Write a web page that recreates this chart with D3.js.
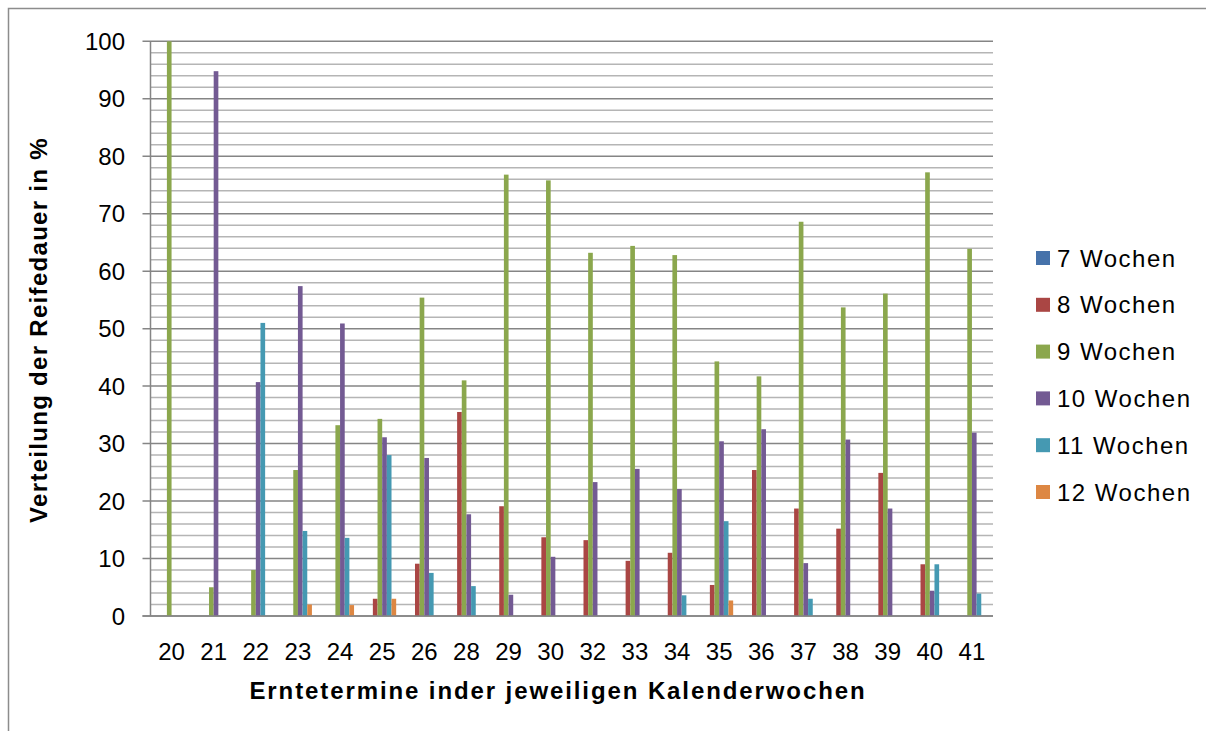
<!DOCTYPE html>
<html>
<head>
<meta charset="utf-8">
<script src="https://cdn.jsdelivr.net/npm/d3@7"></script>
<style>
  html, body { margin: 0; padding: 0; background: #fff; }
  svg { display: block; }
  text { font-family: "Liberation Sans", Arial, Helvetica, sans-serif; fill: #000; }
</style>
</head>
<body>
<svg id="chart" width="1206" height="731"></svg>
<script>
// Harvest weeks (calendar weeks)
const categories = ["20","21","22","23","24","25","26","28","29","30","32","33","34","35","36","37","38","39","40","41"];

// Share of ripening duration per harvest week, in %
const seriesNames = ["7 Wochen","8 Wochen","9 Wochen","10 Wochen","11 Wochen","12 Wochen"];
const wochen7  = [0,0,0,0,0,0,0,0,0,0,0,0,0,0,0,0,0,0,0,0];
const wochen8  = [0,0,0,0,0,3.0,9.1,35.5,19.1,13.7,13.2,9.6,11.0,5.4,25.4,18.7,15.2,24.9,9.0,0];
const wochen9  = [100,5.0,8.0,25.4,33.2,34.3,55.4,41.0,76.8,75.8,63.2,64.4,62.8,44.3,41.7,68.6,53.7,56.1,77.2,63.9];
const wochen10 = [0,94.8,40.7,57.4,50.9,31.1,27.5,17.7,3.7,10.3,23.3,25.6,22.1,30.4,32.5,9.2,30.7,18.7,4.4,31.9];
const wochen11 = [0,0,51.0,14.8,13.6,28.0,7.5,5.2,0,0,0,0,3.6,16.5,0,3.0,0,0,9.0,3.9];
const wochen12 = [0,0,0,2.0,1.9,3.0,0,0,0,0,0,0,0,2.7,0,0,0,0,0,0];

const yTicks = [0,10,20,30,40,50,60,70,80,90,100];
const colors = ["#4672aa","#aa4644","#8ba74d","#735a93","#4599b2","#dd8743"];

const seriesValues = [wochen7, wochen8, wochen9, wochen10, wochen11, wochen12];
const data = categories.map((c, i) => ({
  cat: c,
  values: seriesNames.map((s, k) => ({ series: s, value: seriesValues[k][i] }))
}));

const svg = d3.select("#chart");

// Outer chart frame
svg.append("rect")
  .attr("x", 8.5).attr("y", 8.5)
  .attr("width", 1210).attr("height", 740)
  .attr("fill", "none").attr("stroke", "#8c8c8c").attr("stroke-width", 1.5);

const plot = { left: 150.5, right: 993, top: 41.3, bottom: 616 };

const x0 = d3.scaleBand().domain(categories).range([plot.left, plot.right]).padding(0);
const bw = x0.bandwidth();
const x1 = d3.scaleBand().domain(seriesNames).range([bw * 0.168, bw * 0.832]).padding(0);
const y = d3.scaleLinear().domain([0, 100]).range([plot.bottom, plot.top]);
const color = d3.scaleOrdinal().domain(seriesNames).range(colors);

// Minor gridlines every 2 %
const minor = d3.range(2, 100, 2).filter(v => v % 10 !== 0);
svg.append("g").selectAll("line").data(minor).join("line")
  .attr("x1", plot.left).attr("x2", plot.right)
  .attr("y1", d => y(d)).attr("y2", d => y(d))
  .attr("stroke", "#b5b5b5").attr("stroke-width", 1.5);

// Major gridlines every 10 % (with outside tick marks)
svg.append("g").selectAll("line").data(yTicks).join("line")
  .attr("x1", plot.left - 8).attr("x2", plot.right)
  .attr("y1", d => y(d)).attr("y2", d => y(d))
  .attr("stroke", "#858585").attr("stroke-width", 1.5);

// Y axis line
svg.append("line")
  .attr("x1", plot.left).attr("x2", plot.left)
  .attr("y1", plot.top).attr("y2", plot.bottom)
  .attr("stroke", "#858585").attr("stroke-width", 1.5);

// Bars
const groups = svg.append("g").selectAll("g").data(data).join("g")
  .attr("transform", d => `translate(${x0(d.cat)},0)`);
groups.selectAll("rect").data(d => d.values.filter(v => v.value > 0)).join("rect")
  .attr("x", d => x1(d.series))
  .attr("width", x1.bandwidth())
  .attr("y", d => y(d.value))
  .attr("height", d => y(0) - y(d.value))
  .attr("fill", d => color(d.series));

// X axis baseline
svg.append("line")
  .attr("x1", plot.left - 8).attr("x2", plot.right)
  .attr("y1", y(0)).attr("y2", y(0))
  .attr("stroke", "#858585").attr("stroke-width", 1.5);

// Y tick labels
svg.append("g").selectAll("text").data(yTicks).join("text")
  .attr("x", 125).attr("y", d => y(d))
  .attr("dy", "0.36em")
  .attr("text-anchor", "end")
  .style("font-size", "24px")
  .text(d => d);

// X tick labels
svg.append("g").selectAll("text").data(categories).join("text")
  .attr("x", d => x0(d) + bw / 2).attr("y", 660)
  .attr("text-anchor", "middle")
  .style("font-size", "24px")
  .text(d => d);

// Axis titles
svg.append("text")
  .attr("x", 558).attr("y", 699)
  .attr("text-anchor", "middle")
  .style("font-size", "24px").style("font-weight", "bold")
  .style("letter-spacing", "1.9px")
  .text("Erntetermine inder jeweiligen Kalenderwochen");

svg.append("text")
  .attr("transform", "translate(47,330) rotate(-90)")
  .attr("text-anchor", "middle")
  .style("font-size", "24px").style("font-weight", "bold")
  .style("letter-spacing", "1.3px")
  .text("Verteilung der Reifedauer in %");

// Legend
const legend = svg.append("g").selectAll("g").data(seriesNames).join("g")
  .attr("transform", (d, i) => `translate(1036,${258 + i * 46.8})`);
legend.append("rect")
  .attr("x", 0).attr("y", -7).attr("width", 14).attr("height", 14)
  .attr("fill", d => color(d));
legend.append("text")
  .attr("x", 21).attr("y", 0).attr("dy", "0.36em")
  .style("font-size", "24px")
  .style("letter-spacing", "1.5px")
  .text(d => d);
</script>
</body>
</html>
